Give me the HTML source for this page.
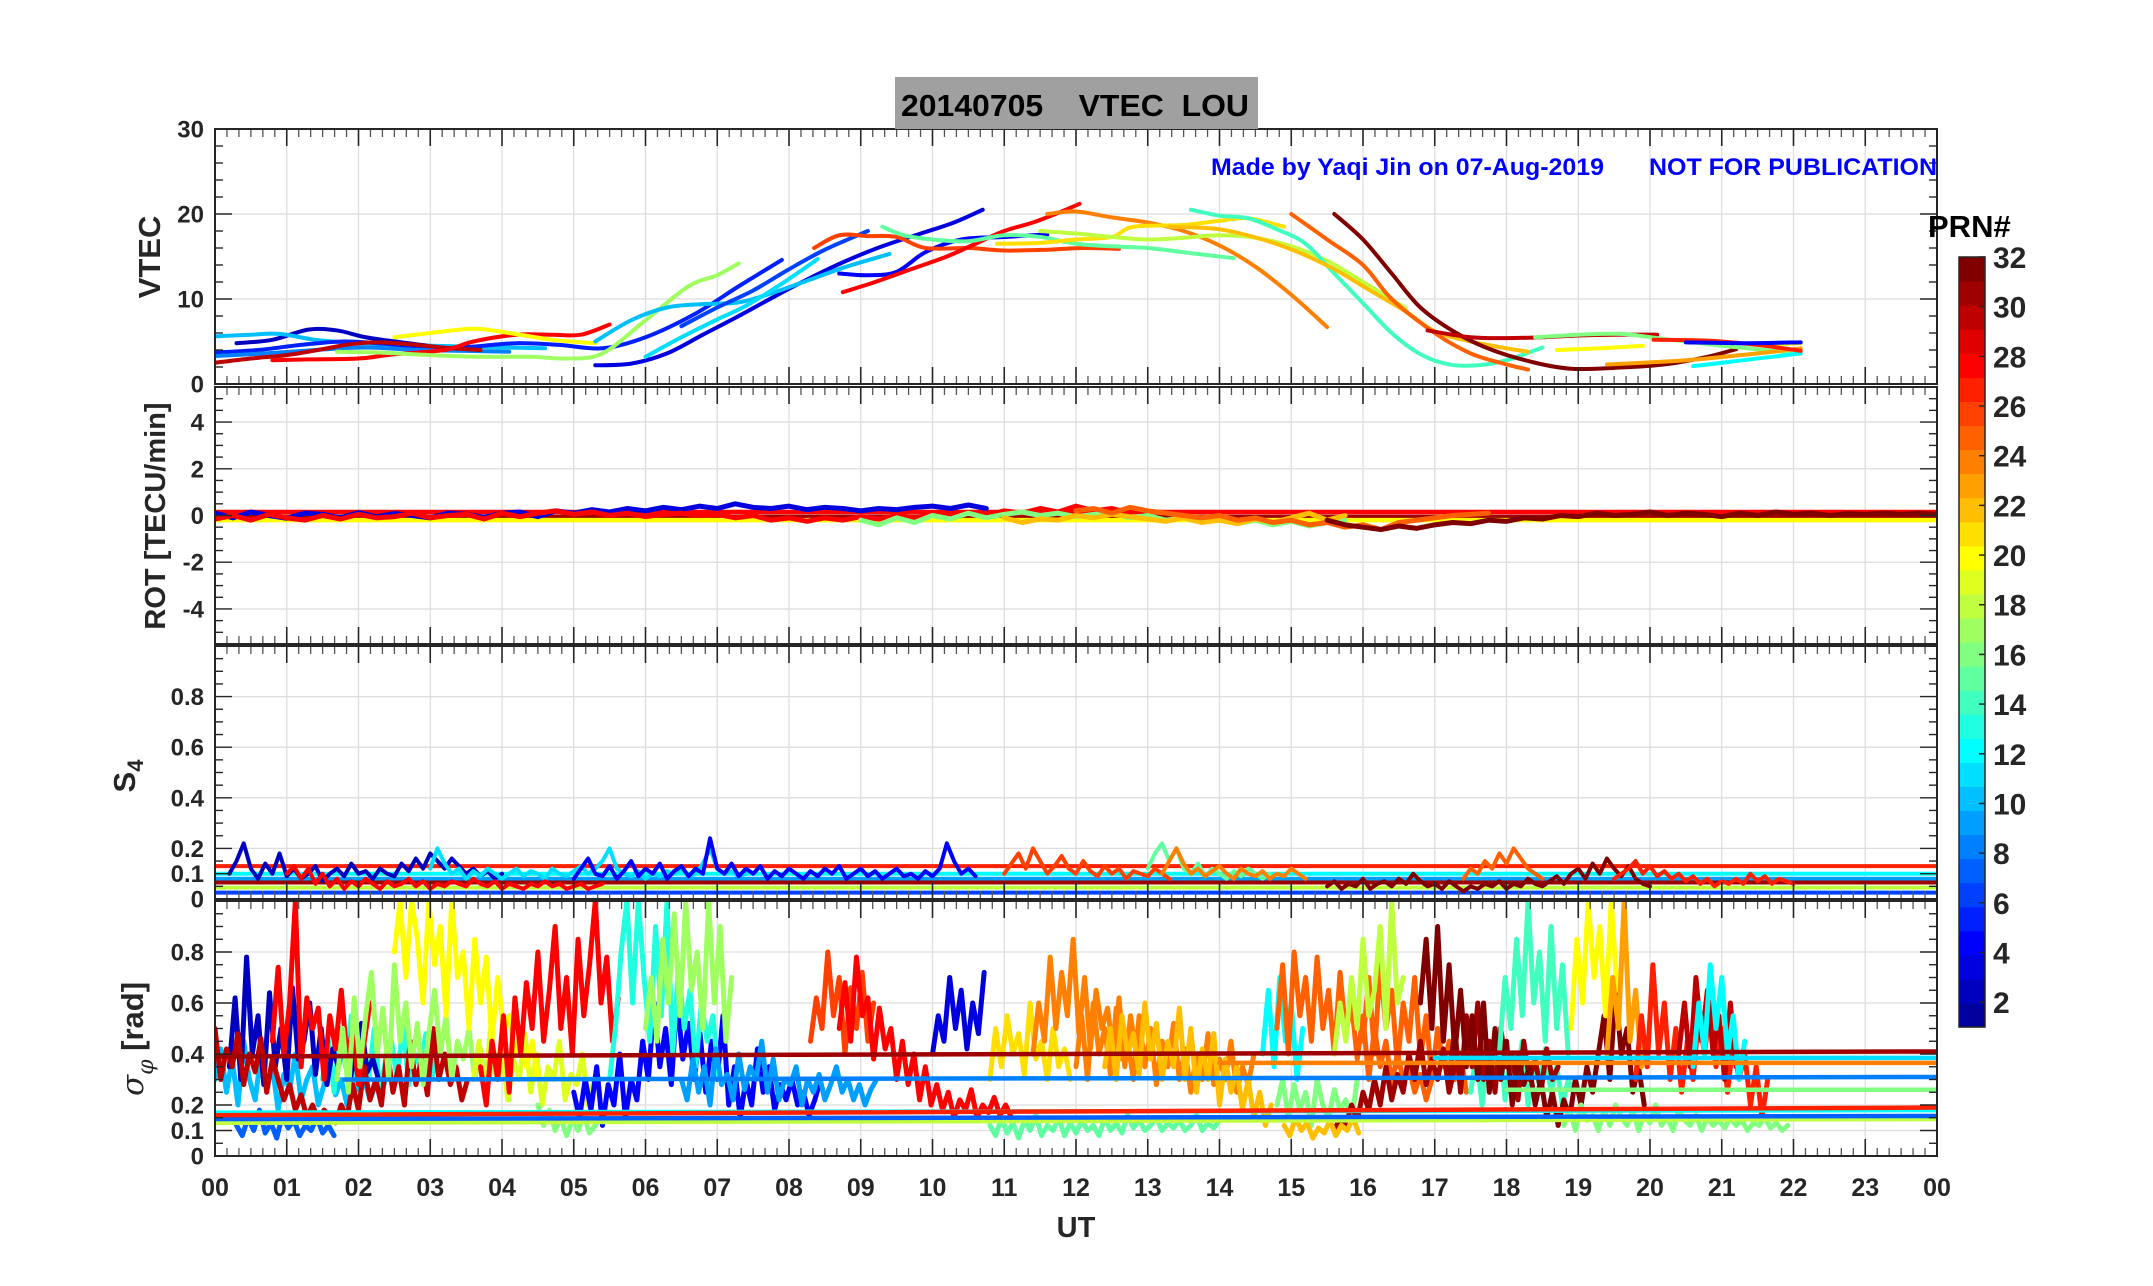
<!DOCTYPE html>
<html><head><meta charset="utf-8"><title>VTEC LOU 20140705</title>
<style>html,body{margin:0;padding:0;background:#fff}svg{display:block}text{font-family:"Liberation Sans",Arial,sans-serif;font-weight:bold}</style>
</head><body>
<svg id="fig" xmlns="http://www.w3.org/2000/svg" width="2153" height="1286" viewBox="0 0 2153 1286">
<rect x="0" y="0" width="2153" height="1286" fill="#fff"/>
<defs>
<clipPath id="c1"><rect x="215" y="129" width="1722" height="255"/></clipPath>
<clipPath id="c2"><rect x="215" y="387" width="1722" height="257"/></clipPath>
<clipPath id="c3"><rect x="215" y="646" width="1722" height="253"/></clipPath>
<clipPath id="c4"><rect x="215" y="901" width="1722" height="255"/></clipPath>
</defs>
<g id="grids"></g>
<g id="data"></g>
<g id="axes"></g>
<rect x="895" y="77" width="363" height="52" fill="#a0a0a0"/>
<text x="901" y="116" font-size="31" fill="#000" textLength="348" lengthAdjust="spacingAndGlyphs" xml:space="preserve">20140705    VTEC  LOU</text>
<text x="1211" y="175" font-size="24" fill="#0000ff" textLength="393" lengthAdjust="spacingAndGlyphs">Made by Yaqi Jin on 07-Aug-2019</text>
<text x="1649" y="175" font-size="24" fill="#0000ff" textLength="288" lengthAdjust="spacingAndGlyphs">NOT FOR PUBLICATION</text>
<text transform="translate(160,257) rotate(-90)" text-anchor="middle" font-size="31" fill="#262626">VTEC</text>
<text transform="translate(165,516) rotate(-90)" text-anchor="middle" font-size="29" fill="#262626">ROT [TECU/min]</text>
<text transform="translate(135,776) rotate(-90)" text-anchor="middle" font-size="31" fill="#262626">S<tspan font-size="22" dy="8">4</tspan></text>
<text transform="translate(143,1039) rotate(-90)" text-anchor="middle" font-size="31" fill="#262626"><tspan font-style="italic" font-family="DejaVu Serif, serif" font-weight="normal">σ</tspan><tspan font-size="22" dy="10" font-style="italic" font-family="DejaVu Serif, serif" font-weight="normal">φ</tspan><tspan dy="-10"> [rad]</tspan></text>
<text x="1076" y="1237" text-anchor="middle" font-size="29" fill="#262626">UT</text>
<text x="1928" y="237" font-size="31" fill="#000">PRN#</text>
<g id="cbar"></g>
</svg>
<script>
// ---------- DATA ----------
const xTickLabels = ["00","01","02","03","04","05","06","07","08","09","10","11","12","13","14","15","16","17","18","19","20","21","22","23","00"];
const vtecTicks = [0,10,20,30];
const rotTicks = [-4,-2,0,2,4];
const s4Ticks = [0,0.1,0.2,0.4,0.6,0.8];
const sigTicks = [0,0.1,0.2,0.4,0.6,0.8];
const cbarTicks = [2,4,6,8,10,12,14,16,18,20,22,24,26,28,30,32];

const vtecPRN = [2,10,5,8,30,28,20,17,3,10,11,6,4,26,28,15,24,21,18,14,22,25,32,30,16,20,20,23,12,27,4];
const vtecT = [
[0.3,0.8,1.3,1.7,2.1,2.6,3.1,3.6],
[0,0.5,0.9,1.4,2,2.5,3,3.5,4,4.6],
[0,0.6,1.2,1.8,2.4,3,3.6,4.2,4.8,5.4,6,6.7,7.3,7.9],
[0,0.7,1.4,2.1,2.8,3.5,4.1],
[0,0.5,1,1.5,1.9,2.3,2.8,3.3,3.7],
[0.8,1.3,2,2.5,3.2,3.6,4.2,4.7,5.1,5.5],
[2.5,3.0,3.6,4.1,4.7,5.3],
[1.7,2.3,3,3.7,4.4,4.9,5.4,6,6.6,7.0,7.3],
[5.3,5.8,6.3,6.8,7.3,7.8,8.3,8.8,9.3,9.8,10.3,10.7],
[5.3,5.8,6.3,6.8,7.3,7.8,8.3,8.8,9.4],
[6.0,6.5,7.0,7.4,7.9,8.4],
[6.5,7.0,7.5,8.0,8.5,9.1],
[8.7,9.1,9.5,9.9,10.4,11.0,11.6],
[8.35,8.7,9.1,9.5,9.9,10.5,11,11.6,12.1,12.6],
[8.75,9.2,9.7,10.2,10.6,11.0,11.4,11.8,12.05],
[9.3,9.6,10,10.5,11,11.5,12,12.5,13,13.5,14.2],
[11.6,12,12.5,13,13.5,14,14.5,15,15.5],
[10.9,11.5,12,12.5,12.8,13.5,14,14.4,14.9],
[11.5,12,12.5,13,13.5,14,14.5,15,15.5,16,16.6],
[13.6,14,14.4,14.8,15.2,15.6,16,16.4,16.8,17.2,17.6,18,18.5],
[13.3,14,14.6,15.1,15.6,16.1,16.6,17,17.5,18,18.3],
[15,15.5,16,16.4,17,17.5,18,18.3],
[15.6,16,16.4,16.8,17.3,17.8,18.4,18.9,19.5,20.2,20.8,21.2],
[16.9,17.5,18,18.5,19,19.5,20.1],
[18.4,19,19.6,20.1,21,22.1],
[18.7,19.3,19.9],
[21.5,22.1],
[19.4,20.5,21.5,22.1],
[20.6,21.3,22.1],
[20.05,20.8,21.5,22.1],
[20.5,21.3,22.1]
];
const vtecV = [
[4.8,5.2,6.4,6.3,5.5,4.9,4.4,4.2],
[5.6,5.8,5.9,5.2,4.8,4.6,4.5,4.4,4.3,4.2],
[3.7,4,4.6,5.0,4.7,4.2,4.4,4.8,4.6,4.2,5.5,8.3,11.5,14.6],
[3.3,3.6,4.0,4.3,4.0,3.9,3.8],
[2.5,3.0,3.4,4.1,4.7,4.9,4.6,4.2,4.0],
[2.8,2.9,3.0,3.5,4.0,5.0,5.8,5.8,5.8,7.0],
[5.5,6.0,6.5,6.0,5.2,4.8],
[3.8,3.7,3.4,3.2,3.2,3.0,3.6,7.5,11.5,12.8,14.2],
[2.2,2.4,3.6,5.8,8.0,10.3,12.5,14.5,16.2,17.6,19.0,20.5],
[5.0,7.5,9.0,9.4,9.6,10.8,12.3,13.8,15.3],
[3.2,5.5,7.6,9.2,11.8,14.7],
[6.8,9.0,11,13.5,15.8,18.0],
[13,12.8,13.2,15.5,17,17.3,17.6],
[16,17.5,17.4,17.3,16,16,15.7,15.8,16,15.9],
[10.8,12,13.5,15,16.5,18,19,20.3,21.2],
[18.5,17.5,17,16.8,17.5,17.3,16.5,16.2,16,15.5,14.8],
[20,20.3,19.6,19,18,16.3,13.8,10.5,6.7],
[16.5,16.6,17,17.3,18.5,18.7,19.2,19.5,18.5],
[18,17.7,17.3,17,17.2,17.5,17.2,16.2,14.5,12,8.9],
[20.5,19.8,19.5,18.2,16.5,13,9.5,6,3.5,2.3,2.2,2.8,4.3],
[18.5,18.2,17,15.5,13.5,11,8.5,6.2,5,4.2,3.8],
[20,17,14,10,6,3.6,2.3,1.7],
[20,17,13,9,6,4,2.5,1.8,1.9,2.3,3.2,4.1],
[6.3,5.5,5.4,5.5,5.7,5.8,5.8],
[5.5,5.8,5.9,5.4,4.5,3.6],
[4.0,4.2,4.5],
[4.6,4.8],
[2.3,2.8,3.6,4.2],
[2.1,2.8,3.6],
[5.2,5.1,4.6,3.9],
[4.9,4.8,4.9]
];

const rotStep = 0.25;
const rotPRN = [3,28,16,22,25,32];
const rotStart = [0,0,9,11,12,15.5];
const rotVals = [
[0.1,-0.1,0.15,0,-0.12,0.1,0.05,-0.1,0.12,-0.05,0.08,0,-0.1,0.1,0.05,-0.08,0.1,0.15,-0.05,0.2,0.1,0.25,0.15,0.3,0.2,0.35,0.25,0.4,0.3,0.5,0.35,0.3,0.4,0.25,0.35,0.3,0.2,0.3,0.25,0.35,0.4,0.3,0.45,0.3],
[-0.15,0,-0.2,0.05,-0.1,-0.2,0,-0.15,0.05,-0.1,-0.05,0.1,-0.1,0,0.05,-0.15,0.1,-0.05,0.1,0.2,0.05,0.15,0,0.1,-0.05,0.05,0.1,0,0.05,-0.1,0,-0.2,-0.1,-0.25,-0.1,-0.2,-0.05,-0.15,0,-0.1,0.05,-0.05,0.1,0,0.2,0.1,0.3,0.15,0.4,0.2,0.3,0.1],
[-0.2,-0.4,-0.1,-0.3,0,-0.15,0.1,-0.1,0.05,0.15,0,0.1,-0.05,0.05,0.1,-0.1,0,-0.2,-0.1,-0.3,-0.15,-0.35,-0.2,-0.4,-0.25,-0.45,-0.3,-0.2],
[-0.1,-0.3,-0.15,-0.2,0,-0.1,0.05,-0.05,-0.15,-0.25,-0.1,-0.3,-0.2,-0.35,-0.15,-0.3,-0.1,0.1,-0.2,0],
[0.2,0.3,0.1,0.35,0.2,0.1,0,-0.1,0,-0.2,-0.1,-0.3,-0.2,-0.4,-0.3,-0.5,-0.4,-0.6,-0.3,-0.2,-0.1,0,0.05,0.1],
[-0.2,-0.4,-0.5,-0.6,-0.45,-0.55,-0.4,-0.3,-0.35,-0.2,-0.25,-0.1,-0.15,0,-0.05,0.1,0,0.05,0.15,0,0.1,0.05,-0.05,0.1,0,0.15,0.05,0.1,0,0.08,0.05,0.1,0.05,0.1,0.05,0.08,0.05,0.1,0.06,0.1,0.05,0.08,0.06,0.1,0.05,0.08,0.06,0.1,0.05,0.08,0.06,0.08,0.05,0.06,0.05]
];
const rotHPRN = [28,31,20];
const rotHVal = [0.15,-0.06,-0.2];

const s4Step = 0.1;
const s4PRN = [2,11,28,4,26,15,24,32,25,27];
const s4Start = [0.2,3,1,5.0,11,13,13.2,15.5,17.4,19.5];
const s4Vals = [
[0.1,0.15,0.22,0.12,0.08,0.14,0.1,0.18,0.09,0.12,0.08,0.1,0.13,0.07,0.1,0.12,0.09,0.14,0.1,0.11,0.08,0.12,0.1,0.09,0.14,0.11,0.16,0.12,0.18,0.15,0.12,0.16,0.13,0.1,0.12,0.09,0.11,0.08,0.1],
[0.12,0.2,0.14,0.1,0.12,0.08,0.11,0.09,0.12,0.1,0.08,0.1,0.12,0.09,0.11,0.1,0.08,0.12,0.1,0.09,0.11,0.13,0.1,0.12,0.15,0.2,0.12,0.1,0.09,0.11,0.08,0.1,0.09,0.11,0.1,0.12,0.09,0.1,0.14,0.2,0.12,0.1,0.11,0.09,0.1],
[0.1,0.13,0.08,0.12,0.06,0.1,0.05,0.08,0.04,0.07,0.05,0.08,0.06,0.04,0.07,0.05,0.06,0.08,0.05,0.07,0.04,0.06,0.05,0.07,0.06,0.05,0.08,0.06,0.05,0.07,0.04,0.06,0.05,0.04,0.06,0.05,0.07,0.05,0.06,0.04,0.05,0.06,0.04,0.05,0.06],
[0.08,0.12,0.16,0.1,0.09,0.13,0.08,0.11,0.15,0.09,0.12,0.1,0.14,0.08,0.11,0.13,0.09,0.12,0.1,0.24,0.12,0.1,0.14,0.09,0.12,0.1,0.13,0.08,0.11,0.09,0.12,0.1,0.08,0.11,0.09,0.12,0.1,0.13,0.08,0.1,0.12,0.09,0.11,0.08,0.1,0.12,0.09,0.1,0.08,0.11,0.09,0.12,0.22,0.15,0.1,0.12,0.09],
[0.1,0.14,0.18,0.12,0.2,0.15,0.1,0.13,0.17,0.12,0.1,0.15,0.11,0.09,0.13,0.1,0.12,0.08,0.11,0.1,0.09,0.12,0.1,0.08],
[0.12,0.18,0.22,0.15,0.2,0.12,0.1,0.14,0.09,0.12,0.1,0.08,0.11,0.09,0.12,0.1,0.08,0.1],
[0.1,0.15,0.2,0.14,0.1,0.12,0.09,0.11,0.13,0.1,0.08,0.12,0.1,0.09,0.11,0.08,0.1,0.09,0.12,0.1,0.08],
[0.05,0.07,0.04,0.06,0.05,0.08,0.04,0.06,0.07,0.05,0.08,0.06,0.1,0.07,0.05,0.06,0.04,0.07,0.05,0.03,0.05,0.04,0.06,0.05,0.07,0.04,0.06,0.05,0.08,0.06,0.05,0.07,0.09,0.06,0.1,0.12,0.08,0.14,0.1,0.16,0.12,0.09,0.13,0.08,0.06,0.05],
[0.08,0.12,0.1,0.15,0.12,0.18,0.14,0.2,0.16,0.12,0.1,0.08],
[0.08,0.1,0.12,0.15,0.1,0.13,0.09,0.11,0.08,0.1,0.07,0.09,0.06,0.08,0.05,0.07,0.06,0.08,0.06,0.1,0.07,0.09,0.06,0.08,0.07,0.06]
];
const s4HPRN = [12,9,18,6,31,27];
const s4HVal = [0.1,0.08,0.045,0.025,0.065,0.13];

const sigStep = 0.08;
const sigPRN = [10,13,2,7,30,28,17,19,20,16,28,4,13,17,9,26,28,3,21,24,24,22,15,12,16,25,25,18,31,22,14,31,32,14,20,23,16,27,30,12];
const sigStart = [0.0,1.5,0.2,0.3,0.0,0.8,1.7,3.6,2.5,4.5,3.7,5.0,5.5,6.0,6.5,8.3,8.7,10.0,10.8,11.4,12.0,12.4,10.8,14.6,14.8,14.8,16.0,15.6,15.6,14.9,17.5,17.2,16.8,17.9,18.9,19.4,18.8,19.8,20.4,20.6];
const sigVals = [
[0.3,0.42,0.25,0.38,0.2,0.45,0.3,0.22,0.4,0.28,0.35,0.18,0.32,0.26,0.4,0.22,0.3,0.35,0.2,0.28,0.38,0.24,0.3,0.2,0.34,0.26,0.3,0.22,0.28,0.25,0.32],
[0.3,0.45,0.25,0.5,0.35,0.55,0.28,0.42,0.3,0.5,0.25,0.38,0.45,0.3,0.52,0.28,0.4,0.35,0.48,0.3,0.42],
[0.35,0.62,0.3,0.78,0.4,0.55,0.28,0.64,0.35,0.5,0.3,0.66,0.38,0.45,0.6,0.32,0.5,0.28,0.42,0.35,0.48,0.3,0.4,0.52,0.33,0.38,0.3],
[0.12,0.08,0.15,0.1,0.18,0.09,0.13,0.07,0.16,0.11,0.14,0.08,0.12,0.1,0.15,0.09,0.12,0.08],
[0.5,0.3,0.42,0.35,0.48,0.28,0.4,0.33,0.46,0.25,0.38,0.3,0.22,0.28,0.18,0.24,0.15,0.2,0.14,0.18,0.16,0.13,0.2,0.15,0.28,0.18,0.35,0.22,0.3,0.2,0.42,0.25,0.35,0.2,0.45,0.28,0.38,0.24,0.5,0.3,0.4,0.28,0.35,0.22,0.3],
[0.45,0.74,0.4,0.6,1.0,0.35,0.62,0.5,0.58,0.3,0.55,0.42,0.65,0.38,0.5,0.28,0.45,0.6],
[0.3,0.5,0.25,0.62,0.35,0.55,0.72,0.4,0.58,0.3,0.75,0.45,0.6,0.35,0.52,0.28,0.48,0.65,0.4,0.55,0.3,0.45,0.38,0.5,0.3,0.42,0.25,0.36,0.3,0.4,0.22],
[0.3,0.45,0.25,0.5,0.35,0.42,0.22,0.38,0.3,0.48,0.25,0.4,0.2,0.35,0.3,0.45,0.22,0.32,0.28,0.4,0.2,0.3,0.25],
[0.8,1.0,0.7,1.0,0.85,0.6,1.0,0.75,0.9,0.55,1.0,0.7,0.8,0.5,0.85,0.6,0.78,0.45,0.7,0.5,0.55,0.4,0.48,0.35,0.45,0.3],
[0.2,0.12,0.18,0.1,0.15,0.08,0.14,0.1,0.16,0.09,0.12,0.15],
[0.35,0.2,0.45,0.3,0.55,0.25,0.62,0.4,0.68,0.5,0.8,0.45,0.65,0.9,0.5,0.7,0.4,0.85,0.55,0.75,1.0,0.6,0.78,0.45,0.62],
[0.25,0.15,0.3,0.18,0.35,0.12,0.28,0.2,0.4,0.15,0.3,0.22,0.45,0.3,0.6,0.35,0.5,0.28,0.62,0.38,0.52,0.3,0.48,0.25,0.45,0.3,0.55,0.2,0.35,0.15,0.3,0.2,0.42,0.25,0.35,0.18,0.28,0.22,0.3,0.2,0.25,0.16,0.22,0.3],
[0.3,0.5,0.8,1.0,0.6,1.0,0.7,0.45,0.9,0.55,1.0,0.4,0.75,0.5,0.65,0.35,0.6,0.45,0.55,0.3],
[0.5,0.7,0.45,0.85,0.6,0.95,0.55,1.0,0.65,0.8,0.5,1.0,0.6,0.9,0.45,0.7],
[0.3,0.22,0.38,0.25,0.35,0.2,0.42,0.28,0.32,0.22,0.4,0.26,0.35,0.3,0.45,0.25,0.38,0.22,0.3,0.28,0.35,0.2,0.3,0.25,0.32,0.22,0.28,0.35,0.25,0.3,0.22,0.28,0.2,0.26,0.3],
[0.45,0.62,0.5,0.8,0.55,0.7,0.4,0.66,0.5,0.72,0.45,0.6],
[0.5,0.68,0.45,0.78,0.55,0.62,0.38,0.58,0.42,0.5,0.3,0.45,0.28,0.4,0.22,0.35,0.2,0.28,0.18,0.25,0.15,0.22,0.18,0.26,0.15,0.2,0.17,0.23,0.16,0.2,0.15],
[0.4,0.55,0.45,0.7,0.5,0.65,0.42,0.6,0.48,0.72],
[0.3,0.5,0.35,0.55,0.4,0.48,0.32,0.6,0.38,0.45,0.3,0.5,0.35,0.42,0.3],
[0.4,0.6,0.45,0.78,0.5,0.72,0.55,0.85,0.48,0.7,0.42,0.65,0.5,0.58,0.4,0.62,0.35,0.55,0.4,0.5],
[0.35,0.55,0.3,0.6,0.4,0.5,0.32,0.58,0.38,0.45,0.3,0.55,0.35,0.5,0.28,0.45,0.35,0.52,0.3,0.42,0.25,0.4,0.3,0.48,0.28,0.38,0.3,0.45,0.25,0.35,0.28,0.4],
[0.35,0.5,0.3,0.55,0.4,0.48,0.32,0.6,0.38,0.52,0.3,0.45,0.35,0.58,0.3,0.5,0.25,0.42,0.3,0.48,0.2,0.38,0.25,0.35,0.18,0.3,0.15,0.25,0.12,0.2],
[0.12,0.08,0.15,0.09,0.13,0.07,0.14,0.1,0.16,0.08,0.12,0.1,0.15,0.08,0.13,0.09,0.14,0.1,0.12,0.08,0.15,0.1,0.13,0.09,0.16,0.11,0.14,0.1,0.12,0.15,0.1,0.13,0.11,0.14,0.1,0.12,0.16,0.1,0.13,0.11,0.14],
[0.4,0.65,0.35,0.7,0.45,0.6,0.3,0.5],
[0.2,0.3,0.15,0.28,0.18,0.25,0.12,0.3,0.2,0.15,0.26,0.18,0.22,0.14,0.3],
[0.5,0.75,0.4,0.8,0.55,0.7,0.45,0.78,0.5,0.65,0.4,0.72,0.48,0.6,0.38,0.55,0.3,0.5,0.35,0.45,0.28,0.4,0.3,0.35,0.25,0.32,0.22,0.3],
[0.45,0.7,0.4,0.75,0.5,0.65,0.35,0.6,0.45,0.7,0.38,0.55,0.3,0.5,0.35,0.45,0.3,0.4,0.25],
[0.4,0.6,0.45,0.7,0.5,0.85,0.55,0.65,0.9,0.5,1.0,0.6,0.7],
[0.1,0.15,0.12,0.2,0.14,0.25,0.18,0.3,0.2,0.35,0.22,0.32,0.25,0.4,0.3,0.45,0.28,0.38,0.3,0.42,0.25,0.35],
[0.12,0.08,0.15,0.1,0.13,0.07,0.11,0.09,0.14,0.08,0.12,0.1,0.15,0.09],
[0.25,0.4,0.2,0.45,0.3,0.5,0.22,0.38,0.3,0.45,0.2,0.35,0.28,0.42,0.25,0.35,0.2,0.3,0.25],
[0.3,0.5,0.25,0.55,0.35,0.6,0.3,0.45,0.25,0.5,0.35,0.4,0.22,0.45,0.3,0.38,0.25,0.42,0.3,0.35],
[0.6,0.85,0.5,0.9,0.45,0.75,0.4,0.65,0.35,0.55,0.3,0.6,0.25,0.5,0.3,0.45,0.2,0.4,0.28,0.35,0.2,0.3,0.15,0.25,0.12,0.22,0.15,0.3,0.2,0.35,0.25,0.4,0.55,0.3,0.65,0.4,0.5,0.25,0.35,0.2],
[0.4,0.7,0.5,0.85,0.55,1.0,0.6,0.8,0.45,0.9,0.5,0.75,0.4],
[0.5,0.85,0.6,1.0,0.7,0.9,0.55,1.0,0.65],
[0.4,0.7,0.5,1.0,0.45,0.65,0.35],
[0.12,0.18,0.1,0.2,0.14,0.16,0.1,0.18,0.12,0.2,0.15,0.12,0.18,0.1,0.16,0.13,0.2,0.12,0.15,0.1,0.18,0.14,0.12,0.16,0.1,0.15,0.12,0.14,0.11,0.15,0.12,0.14,0.1,0.13,0.12,0.15,0.11,0.13,0.1,0.12],
[0.3,0.55,0.35,0.75,0.4,0.6,0.3,0.5,0.25,0.45,0.3,0.55,0.4,0.6,0.35,0.5,0.25,0.45,0.3,0.4,0.2,0.35,0.15,0.3],
[0.4,0.6,0.35,0.7,0.45,0.65,0.4,0.55,0.3,0.6,0.35],
[0.35,0.6,0.4,0.75,0.5,0.7,0.4,0.55,0.3,0.45]
];
const sigHPRN = [18,7,12,8,11,24,16,27,31];
const sigHStart = [0,0,0,1.8,17,14,18,0,0];
const sigHEnd = [24,24,24,24,24,24,24,24,24];
const sigHV0 = [0.13,0.145,0.17,0.3,0.385,0.365,0.26,0.16,0.39];
const sigHV1 = [0.145,0.157,0.18,0.31,0.385,0.365,0.26,0.19,0.41];

// ---------- SCALES ----------
const X0 = 215, X1 = 1937;
function xS(h){ return X0 + h*(X1-X0)/24; }
const P = {
  vtec:{top:129,bot:384,min:0,max:30,clip:'c1'},
  rot:{top:387,bot:644,min:-5.5,max:5.5,clip:'c2'},
  s4:{top:646,bot:899,min:0,max:1,clip:'c3'},
  sig:{top:901,bot:1156,min:0,max:1,clip:'c4'}
};
function yS(p,v){ return p.bot - (v-p.min)/(p.max-p.min)*(p.bot-p.top); }

function jet(m){
  const n = Math.ceil(m/4), u=[];
  for(let i=1;i<=n;i++) u.push(i/n);
  for(let i=1;i<n;i++) u.push(1);
  for(let i=n;i>=1;i--) u.push(i/n);
  const off = Math.ceil(n/2) - (m%4===1?1:0);
  const J=[]; for(let i=0;i<m;i++) J.push([0,0,0]);
  for(let k=0;k<u.length;k++){
    const g=off+k+1, r=g+n, b=g-n;
    if(g>=1&&g<=m) J[g-1][1]=u[k];
    if(r>=1&&r<=m) J[r-1][0]=u[k];
    if(b>=1&&b<=m) J[b-1][2]=u[k];
  }
  return J.map(c=>'rgb('+c.map(x=>Math.round(x*255)).join(',')+')');
}
const CM = jet(32);
function col(prn){ return CM[Math.max(1,Math.min(32,prn))-1]; }

const NS='http://www.w3.org/2000/svg';
function mk(tag, parent){ const e=document.createElementNS(NS,tag); parent.appendChild(e); return e; }
const gG=document.getElementById('grids'), gD=document.getElementById('data'), gA=document.getElementById('axes'), gC=document.getElementById('cbar');

// ---------- AXES ----------
function drawAxes(key, p, majors, minorStep, labels, showX){
  for(let h=0;h<=24;h++){
    const x=xS(h);
    if(h>0&&h<24){
      const gl=mk('line',gG);
      
      
      gl.setAttribute('x1',x);gl.setAttribute('x2',x);gl.setAttribute('y1',p.top);gl.setAttribute('y2',p.bot);
      gl.setAttribute('stroke','#dedede');gl.setAttribute('stroke-width','1.3');
    }
    for(let s=0;s<6;s++){
      if(h===24&&s>0) break;
      const xx=xS(h+s/6), len=(s===0)?17:8;
      [[p.top,p.top+len],[p.bot,p.bot-len]].forEach(function(yy){
        const t=mk('line',gA);
        
        
        t.setAttribute('x1',xx);t.setAttribute('x2',xx);t.setAttribute('y1',yy[0]);t.setAttribute('y2',yy[1]);
        t.setAttribute('stroke',s===0?'#262626':'#555');t.setAttribute('stroke-width',s===0?'1.6':'1.3');
      });
    }
    if(showX){
      const tl=mk('text',gA);
      
      
      tl.setAttribute('x',x);tl.setAttribute('y',1196);tl.setAttribute('text-anchor','middle');
      tl.setAttribute('font-size','25');tl.setAttribute('fill','#262626');
      tl.textContent=xTickLabels[h];
    }
  }
  for(let v=p.min; v<=p.max+1e-9; v+=minorStep){
    const y=yS(p,v);
    const isMajor = majors.some(m=>Math.abs(m-v)<1e-6);
    const len = isMajor?17:8;
    [[X0,X0+len],[X1,X1-len]].forEach(function(xx){
      const t=mk('line',gA);
      
      
      t.setAttribute('x1',xx[0]);t.setAttribute('x2',xx[1]);t.setAttribute('y1',y);t.setAttribute('y2',y);
      t.setAttribute('stroke','#262626');t.setAttribute('stroke-width','1.4');
    });
  }
  majors.forEach(function(m){
    const y=yS(p,m);
    if(y>p.top+2&&y<p.bot-2){
      const gl=mk('line',gG);
      
      
      gl.setAttribute('x1',X0);gl.setAttribute('x2',X1);gl.setAttribute('y1',y);gl.setAttribute('y2',y);
      gl.setAttribute('stroke','#dedede');gl.setAttribute('stroke-width','1.3');
    }
  });
  labels.forEach(function(m){
    const tl=mk('text',gA);
    
    
    tl.setAttribute('x',204);tl.setAttribute('y',yS(p,m)+8.5);tl.setAttribute('text-anchor','end');
    tl.setAttribute('font-size','24');tl.setAttribute('fill','#262626');
    tl.textContent=String(m);
  });
  const fr=mk('rect',gA);
  
  
  fr.setAttribute('x',X0);fr.setAttribute('y',p.top);fr.setAttribute('width',X1-X0);fr.setAttribute('height',p.bot-p.top);
  fr.setAttribute('fill','none');fr.setAttribute('stroke','#262626');fr.setAttribute('stroke-width','2');
}
drawAxes('vtec',P.vtec,vtecTicks,2,vtecTicks,false);
drawAxes('rot',P.rot,rotTicks,0.5,rotTicks,false);
drawAxes('s4',P.s4,s4Ticks.concat([1]),0.05,s4Ticks,false);
drawAxes('sigma',P.sig,sigTicks.concat([1]),0.05,sigTicks,true);

// ---------- SERIES ----------
function smoothPath(pts){
  if(pts.length<3) return 'M'+pts.map(q=>q.join(',')).join('L');
  let d='M'+pts[0][0]+','+pts[0][1];
  for(let i=0;i<pts.length-1;i++){
    const p0=pts[Math.max(0,i-1)],p1=pts[i],p2=pts[i+1],p3=pts[Math.min(pts.length-1,i+2)];
    const c1=[p1[0]+(p2[0]-p0[0])/6,p1[1]+(p2[1]-p0[1])/6];
    const c2=[p2[0]-(p3[0]-p1[0])/6,p2[1]-(p3[1]-p1[1])/6];
    d+='C'+c1.join(',')+' '+c2.join(',')+' '+p2.join(',');
  }
  return d;
}
function panelGroup(p,name){
  const g=mk('g',gD);
  
  
  g.setAttribute('clip-path','url(#'+p.clip+')');
  return g;
}
function polyPath(g,d,color,w,name){
  const e=mk('path',g);
  
  
  e.setAttribute('d',d);e.setAttribute('fill','none');e.setAttribute('stroke',color);
  e.setAttribute('stroke-width',w);e.setAttribute('stroke-linejoin','round');e.setAttribute('stroke-linecap','round');
  return e;
}
function stepPts(p,start,step,vals){ return vals.map((v,i)=>[+xS(start+i*step).toFixed(2),+yS(p,v).toFixed(2)]); }

// VTEC
const gV=panelGroup(P.vtec,'vtec-series');
vtecT.forEach(function(t,i){
  const pts=t.map((h,j)=>[+xS(h).toFixed(2),+yS(P.vtec,vtecV[i][j]).toFixed(2)]);
  polyPath(gV,smoothPath(pts),col(vtecPRN[i]),4,'vtec-line-prn'+vtecPRN[i]);
});
// ROT
const gR=panelGroup(P.rot,'rot-series');
rotHPRN.forEach(function(prn,i){
  polyPath(gR,'M'+xS(0)+','+yS(P.rot,rotHVal[i])+'L'+xS(24)+','+yS(P.rot,rotHVal[i]),col(prn),4.5,'rot-baseline-prn'+prn);
});
rotVals.forEach(function(v,i){
  const d='M'+stepPts(P.rot,rotStart[i],rotStep,v).map(q=>q.join(',')).join('L');
  polyPath(gR,d,col(rotPRN[i]),5,'rot-line-prn'+rotPRN[i]);
});
// S4
const gS=panelGroup(P.s4,'s4-series');
s4HPRN.forEach(function(prn,i){
  polyPath(gS,'M'+xS(0)+','+yS(P.s4,s4HVal[i])+'L'+xS(24)+','+yS(P.s4,s4HVal[i]),col(prn),4,'s4-baseline-prn'+prn);
});
s4Vals.forEach(function(v,i){
  const d='M'+stepPts(P.s4,s4Start[i],s4Step,v).map(q=>q.join(',')).join('L');
  polyPath(gS,d,col(s4PRN[i]),4,'s4-line-prn'+s4PRN[i]);
});
// Sigma phi
const gP=panelGroup(P.sig,'sigma-phi-series');
sigVals.forEach(function(v,i){
  const d='M'+stepPts(P.sig,sigStart[i],sigStep,v).map(q=>q.join(',')).join('L');
  polyPath(gP,d,col(sigPRN[i]),5,'sigma-phi-line-prn'+sigPRN[i]);
});
sigHPRN.forEach(function(prn,i){
  polyPath(gP,'M'+xS(sigHStart[i])+','+yS(P.sig,sigHV0[i])+'L'+xS(sigHEnd[i])+','+yS(P.sig,sigHV1[i]),col(prn),4.5,'sigma-phi-level-prn'+prn);
});

// ---------- COLORBAR ----------
const CB={x:1959,w:26,top:257,bot:1027,min:1,max:32};
function cbY(v){ return CB.bot-(v-CB.min)/(CB.max-CB.min)*(CB.bot-CB.top); }
const bandH=(CB.bot-CB.top)/32;
for(let k=0;k<32;k++){
  const r=mk('rect',gC);
  
  
  r.setAttribute('x',CB.x);r.setAttribute('y',(CB.bot-(k+1)*bandH).toFixed(2));
  r.setAttribute('width',CB.w);r.setAttribute('height',(bandH+0.6).toFixed(2));
  r.setAttribute('fill',CM[k]);
}
const cbf=mk('rect',gC);


cbf.setAttribute('x',CB.x);cbf.setAttribute('y',CB.top);cbf.setAttribute('width',CB.w);cbf.setAttribute('height',CB.bot-CB.top);
cbf.setAttribute('fill','none');cbf.setAttribute('stroke','#262626');cbf.setAttribute('stroke-width','1.5');
cbarTicks.forEach(function(v){
  const y=cbY(v);
  const t=mk('line',gC);
  
  
  t.setAttribute('x1',CB.x+CB.w-6);t.setAttribute('x2',CB.x+CB.w);t.setAttribute('y1',y);t.setAttribute('y2',y);
  t.setAttribute('stroke','#262626');t.setAttribute('stroke-width','1.5');
  const l=mk('text',gC);
  
  
  l.setAttribute('x',1993);l.setAttribute('y',y+11);
  l.setAttribute('font-size','30');l.setAttribute('fill','#262626');
  l.textContent=String(v);
});
</script>
</body></html>
